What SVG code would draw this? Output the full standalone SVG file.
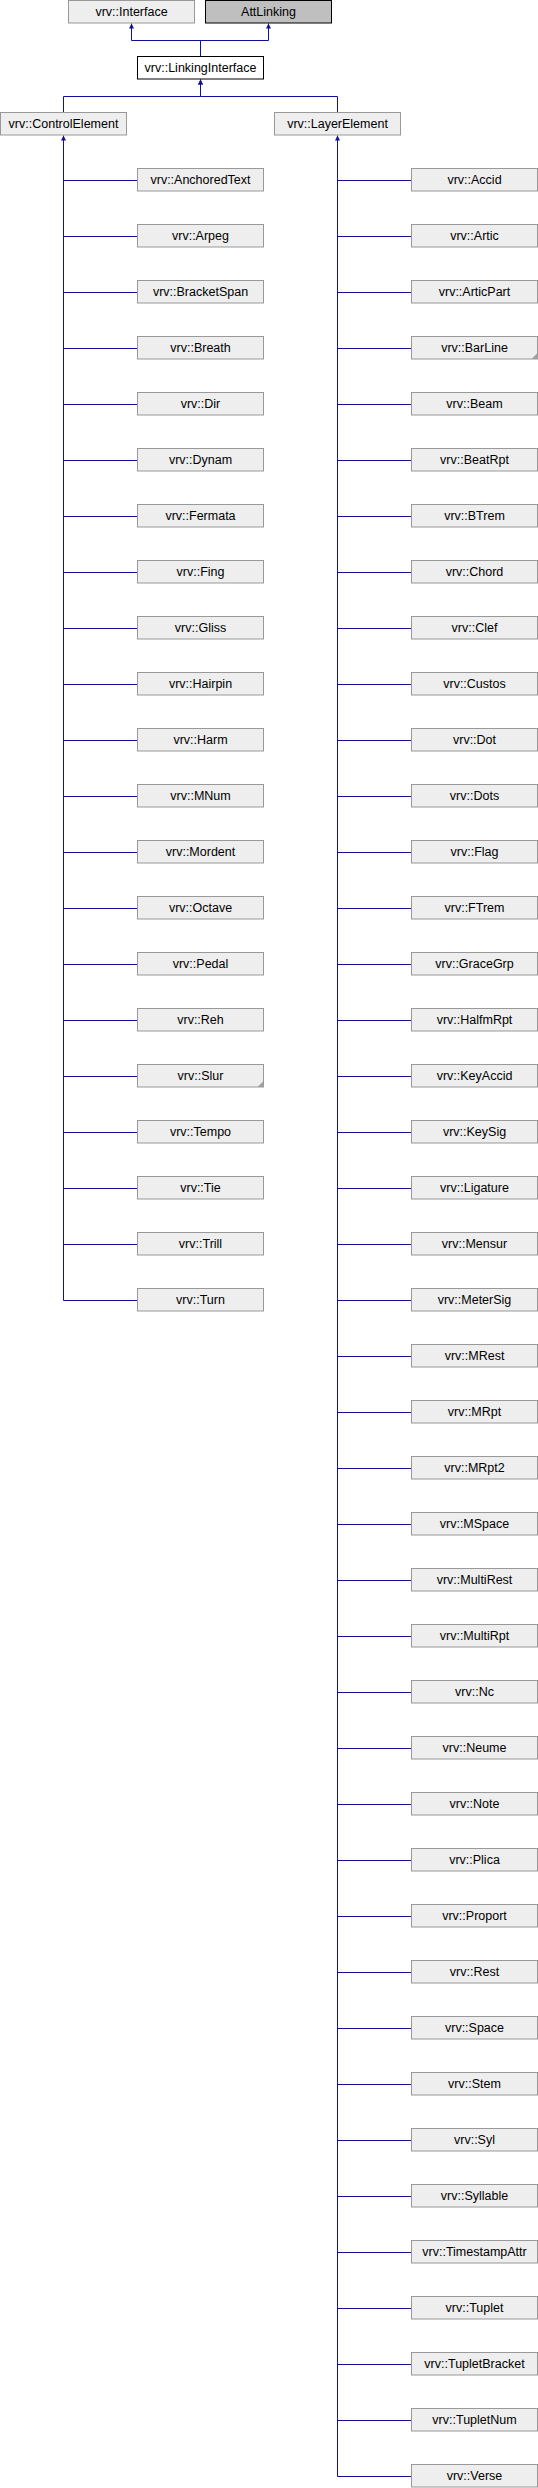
<svg xmlns="http://www.w3.org/2000/svg" width="538" height="2488" viewBox="0 0 538 2488">
<defs>
<style>
.n rect{fill:#eeeeee;stroke:#999999;stroke-width:1}
.n text{font-family:"Liberation Sans",Arial,sans-serif;font-size:12.5px;fill:#000;text-anchor:middle}
.f{fill:#a0a0a0;stroke:none}
.e{fill:none;stroke:#10109a;stroke-width:1}
</style>
<marker id="a" viewBox="0 0 10 10" refX="10" refY="5" markerUnits="userSpaceOnUse" markerWidth="6" markerHeight="5" orient="auto"><path d="M0,0 L10,5 L0,10 z" fill="#10109a"/></marker>
</defs>
<rect width="538" height="2488" fill="#ffffff"/>
<g id="edges">
<path class="e" d="M200.5,56 V40.5 H131.5 V23.5" marker-end="url(#a)"/>
<path class="e" d="M200.5,56 V40.5 H268.5 V23.5" marker-end="url(#a)"/>
<path class="e" d="M63.5,112 V96.5 H200.5 V79.5" marker-end="url(#a)"/>
<path class="e" d="M337.5,112 V96.5 H200.5 V79.5" marker-end="url(#a)"/>
<path class="e" d="M63.5,1300.5 V135.5" marker-end="url(#a)"/>
<path class="e" d="M337.5,2476.5 V135.5" marker-end="url(#a)"/>
<path class="e" d="M63.5,180.5 H137 M63.5,236.5 H137 M63.5,292.5 H137 M63.5,348.5 H137 M63.5,404.5 H137 M63.5,460.5 H137 M63.5,516.5 H137 M63.5,572.5 H137 M63.5,628.5 H137 M63.5,684.5 H137 M63.5,740.5 H137 M63.5,796.5 H137 M63.5,852.5 H137 M63.5,908.5 H137 M63.5,964.5 H137 M63.5,1020.5 H137 M63.5,1076.5 H137 M63.5,1132.5 H137 M63.5,1188.5 H137 M63.5,1244.5 H137 M63.5,1300.5 H137"/>
<path class="e" d="M337.5,180.5 H411 M337.5,236.5 H411 M337.5,292.5 H411 M337.5,348.5 H411 M337.5,404.5 H411 M337.5,460.5 H411 M337.5,516.5 H411 M337.5,572.5 H411 M337.5,628.5 H411 M337.5,684.5 H411 M337.5,740.5 H411 M337.5,796.5 H411 M337.5,852.5 H411 M337.5,908.5 H411 M337.5,964.5 H411 M337.5,1020.5 H411 M337.5,1076.5 H411 M337.5,1132.5 H411 M337.5,1188.5 H411 M337.5,1244.5 H411 M337.5,1300.5 H411 M337.5,1356.5 H411 M337.5,1412.5 H411 M337.5,1468.5 H411 M337.5,1524.5 H411 M337.5,1580.5 H411 M337.5,1636.5 H411 M337.5,1692.5 H411 M337.5,1748.5 H411 M337.5,1804.5 H411 M337.5,1860.5 H411 M337.5,1916.5 H411 M337.5,1972.5 H411 M337.5,2028.5 H411 M337.5,2084.5 H411 M337.5,2140.5 H411 M337.5,2196.5 H411 M337.5,2252.5 H411 M337.5,2308.5 H411 M337.5,2364.5 H411 M337.5,2420.5 H411 M337.5,2476.5 H411"/>
</g>
<g id="n_Interface" class="n"><rect x="68.5" y="0.5" width="126" height="22.5"/><text x="131.5" y="15.5">vrv::Interface</text></g>
<g id="n_AttLinking" class="n"><rect x="205.5" y="0.5" width="126" height="22.5" style="fill:#bfbfbf;stroke:#000"/><text x="268.5" y="15.5">AttLinking</text></g>
<g id="n_LinkingInterface" class="n"><rect x="137.5" y="56.5" width="126" height="22.5" style="fill:#fff;stroke:#000"/><text x="200.5" y="71.5">vrv::LinkingInterface</text></g>
<g id="n_ControlElement" class="n"><rect x="0.5" y="112.5" width="126" height="22.5"/><text x="63.5" y="127.5">vrv::ControlElement</text></g>
<g id="n_LayerElement" class="n"><rect x="274.5" y="112.5" width="126" height="22.5"/><text x="337.5" y="127.5">vrv::LayerElement</text></g>
<g id="n_AnchoredText" class="n"><rect x="137.5" y="168.5" width="126" height="22.5"/><text x="200.5" y="183.5">vrv::AnchoredText</text></g>
<g id="n_Arpeg" class="n"><rect x="137.5" y="224.5" width="126" height="22.5"/><text x="200.5" y="239.5">vrv::Arpeg</text></g>
<g id="n_BracketSpan" class="n"><rect x="137.5" y="280.5" width="126" height="22.5"/><text x="200.5" y="295.5">vrv::BracketSpan</text></g>
<g id="n_Breath" class="n"><rect x="137.5" y="336.5" width="126" height="22.5"/><text x="200.5" y="351.5">vrv::Breath</text></g>
<g id="n_Dir" class="n"><rect x="137.5" y="392.5" width="126" height="22.5"/><text x="200.5" y="407.5">vrv::Dir</text></g>
<g id="n_Dynam" class="n"><rect x="137.5" y="448.5" width="126" height="22.5"/><text x="200.5" y="463.5">vrv::Dynam</text></g>
<g id="n_Fermata" class="n"><rect x="137.5" y="504.5" width="126" height="22.5"/><text x="200.5" y="519.5">vrv::Fermata</text></g>
<g id="n_Fing" class="n"><rect x="137.5" y="560.5" width="126" height="22.5"/><text x="200.5" y="575.5">vrv::Fing</text></g>
<g id="n_Gliss" class="n"><rect x="137.5" y="616.5" width="126" height="22.5"/><text x="200.5" y="631.5">vrv::Gliss</text></g>
<g id="n_Hairpin" class="n"><rect x="137.5" y="672.5" width="126" height="22.5"/><text x="200.5" y="687.5">vrv::Hairpin</text></g>
<g id="n_Harm" class="n"><rect x="137.5" y="728.5" width="126" height="22.5"/><text x="200.5" y="743.5">vrv::Harm</text></g>
<g id="n_MNum" class="n"><rect x="137.5" y="784.5" width="126" height="22.5"/><text x="200.5" y="799.5">vrv::MNum</text></g>
<g id="n_Mordent" class="n"><rect x="137.5" y="840.5" width="126" height="22.5"/><text x="200.5" y="855.5">vrv::Mordent</text></g>
<g id="n_Octave" class="n"><rect x="137.5" y="896.5" width="126" height="22.5"/><text x="200.5" y="911.5">vrv::Octave</text></g>
<g id="n_Pedal" class="n"><rect x="137.5" y="952.5" width="126" height="22.5"/><text x="200.5" y="967.5">vrv::Pedal</text></g>
<g id="n_Reh" class="n"><rect x="137.5" y="1008.5" width="126" height="22.5"/><text x="200.5" y="1023.5">vrv::Reh</text></g>
<g id="n_Slur" class="n"><rect x="137.5" y="1064.5" width="126" height="22.5"/><path class="f" d="M263.5,1081 V1087 H257.5 z"/><text x="200.5" y="1079.5">vrv::Slur</text></g>
<g id="n_Tempo" class="n"><rect x="137.5" y="1120.5" width="126" height="22.5"/><text x="200.5" y="1135.5">vrv::Tempo</text></g>
<g id="n_Tie" class="n"><rect x="137.5" y="1176.5" width="126" height="22.5"/><text x="200.5" y="1191.5">vrv::Tie</text></g>
<g id="n_Trill" class="n"><rect x="137.5" y="1232.5" width="126" height="22.5"/><text x="200.5" y="1247.5">vrv::Trill</text></g>
<g id="n_Turn" class="n"><rect x="137.5" y="1288.5" width="126" height="22.5"/><text x="200.5" y="1303.5">vrv::Turn</text></g>
<g id="n_Accid" class="n"><rect x="411.5" y="168.5" width="126" height="22.5"/><text x="474.5" y="183.5">vrv::Accid</text></g>
<g id="n_Artic" class="n"><rect x="411.5" y="224.5" width="126" height="22.5"/><text x="474.5" y="239.5">vrv::Artic</text></g>
<g id="n_ArticPart" class="n"><rect x="411.5" y="280.5" width="126" height="22.5"/><text x="474.5" y="295.5">vrv::ArticPart</text></g>
<g id="n_BarLine" class="n"><rect x="411.5" y="336.5" width="126" height="22.5"/><path class="f" d="M537.5,353 V359 H531.5 z"/><text x="474.5" y="351.5">vrv::BarLine</text></g>
<g id="n_Beam" class="n"><rect x="411.5" y="392.5" width="126" height="22.5"/><text x="474.5" y="407.5">vrv::Beam</text></g>
<g id="n_BeatRpt" class="n"><rect x="411.5" y="448.5" width="126" height="22.5"/><text x="474.5" y="463.5">vrv::BeatRpt</text></g>
<g id="n_BTrem" class="n"><rect x="411.5" y="504.5" width="126" height="22.5"/><text x="474.5" y="519.5">vrv::BTrem</text></g>
<g id="n_Chord" class="n"><rect x="411.5" y="560.5" width="126" height="22.5"/><text x="474.5" y="575.5">vrv::Chord</text></g>
<g id="n_Clef" class="n"><rect x="411.5" y="616.5" width="126" height="22.5"/><text x="474.5" y="631.5">vrv::Clef</text></g>
<g id="n_Custos" class="n"><rect x="411.5" y="672.5" width="126" height="22.5"/><text x="474.5" y="687.5">vrv::Custos</text></g>
<g id="n_Dot" class="n"><rect x="411.5" y="728.5" width="126" height="22.5"/><text x="474.5" y="743.5">vrv::Dot</text></g>
<g id="n_Dots" class="n"><rect x="411.5" y="784.5" width="126" height="22.5"/><text x="474.5" y="799.5">vrv::Dots</text></g>
<g id="n_Flag" class="n"><rect x="411.5" y="840.5" width="126" height="22.5"/><text x="474.5" y="855.5">vrv::Flag</text></g>
<g id="n_FTrem" class="n"><rect x="411.5" y="896.5" width="126" height="22.5"/><text x="474.5" y="911.5">vrv::FTrem</text></g>
<g id="n_GraceGrp" class="n"><rect x="411.5" y="952.5" width="126" height="22.5"/><text x="474.5" y="967.5">vrv::GraceGrp</text></g>
<g id="n_HalfmRpt" class="n"><rect x="411.5" y="1008.5" width="126" height="22.5"/><text x="474.5" y="1023.5">vrv::HalfmRpt</text></g>
<g id="n_KeyAccid" class="n"><rect x="411.5" y="1064.5" width="126" height="22.5"/><text x="474.5" y="1079.5">vrv::KeyAccid</text></g>
<g id="n_KeySig" class="n"><rect x="411.5" y="1120.5" width="126" height="22.5"/><text x="474.5" y="1135.5">vrv::KeySig</text></g>
<g id="n_Ligature" class="n"><rect x="411.5" y="1176.5" width="126" height="22.5"/><text x="474.5" y="1191.5">vrv::Ligature</text></g>
<g id="n_Mensur" class="n"><rect x="411.5" y="1232.5" width="126" height="22.5"/><text x="474.5" y="1247.5">vrv::Mensur</text></g>
<g id="n_MeterSig" class="n"><rect x="411.5" y="1288.5" width="126" height="22.5"/><text x="474.5" y="1303.5">vrv::MeterSig</text></g>
<g id="n_MRest" class="n"><rect x="411.5" y="1344.5" width="126" height="22.5"/><text x="474.5" y="1359.5">vrv::MRest</text></g>
<g id="n_MRpt" class="n"><rect x="411.5" y="1400.5" width="126" height="22.5"/><text x="474.5" y="1415.5">vrv::MRpt</text></g>
<g id="n_MRpt2" class="n"><rect x="411.5" y="1456.5" width="126" height="22.5"/><text x="474.5" y="1471.5">vrv::MRpt2</text></g>
<g id="n_MSpace" class="n"><rect x="411.5" y="1512.5" width="126" height="22.5"/><text x="474.5" y="1527.5">vrv::MSpace</text></g>
<g id="n_MultiRest" class="n"><rect x="411.5" y="1568.5" width="126" height="22.5"/><text x="474.5" y="1583.5">vrv::MultiRest</text></g>
<g id="n_MultiRpt" class="n"><rect x="411.5" y="1624.5" width="126" height="22.5"/><text x="474.5" y="1639.5">vrv::MultiRpt</text></g>
<g id="n_Nc" class="n"><rect x="411.5" y="1680.5" width="126" height="22.5"/><text x="474.5" y="1695.5">vrv::Nc</text></g>
<g id="n_Neume" class="n"><rect x="411.5" y="1736.5" width="126" height="22.5"/><text x="474.5" y="1751.5">vrv::Neume</text></g>
<g id="n_Note" class="n"><rect x="411.5" y="1792.5" width="126" height="22.5"/><text x="474.5" y="1807.5">vrv::Note</text></g>
<g id="n_Plica" class="n"><rect x="411.5" y="1848.5" width="126" height="22.5"/><text x="474.5" y="1863.5">vrv::Plica</text></g>
<g id="n_Proport" class="n"><rect x="411.5" y="1904.5" width="126" height="22.5"/><text x="474.5" y="1919.5">vrv::Proport</text></g>
<g id="n_Rest" class="n"><rect x="411.5" y="1960.5" width="126" height="22.5"/><text x="474.5" y="1975.5">vrv::Rest</text></g>
<g id="n_Space" class="n"><rect x="411.5" y="2016.5" width="126" height="22.5"/><text x="474.5" y="2031.5">vrv::Space</text></g>
<g id="n_Stem" class="n"><rect x="411.5" y="2072.5" width="126" height="22.5"/><text x="474.5" y="2087.5">vrv::Stem</text></g>
<g id="n_Syl" class="n"><rect x="411.5" y="2128.5" width="126" height="22.5"/><text x="474.5" y="2143.5">vrv::Syl</text></g>
<g id="n_Syllable" class="n"><rect x="411.5" y="2184.5" width="126" height="22.5"/><text x="474.5" y="2199.5">vrv::Syllable</text></g>
<g id="n_TimestampAttr" class="n"><rect x="411.5" y="2240.5" width="126" height="22.5"/><text x="474.5" y="2255.5">vrv::TimestampAttr</text></g>
<g id="n_Tuplet" class="n"><rect x="411.5" y="2296.5" width="126" height="22.5"/><text x="474.5" y="2311.5">vrv::Tuplet</text></g>
<g id="n_TupletBracket" class="n"><rect x="411.5" y="2352.5" width="126" height="22.5"/><text x="474.5" y="2367.5">vrv::TupletBracket</text></g>
<g id="n_TupletNum" class="n"><rect x="411.5" y="2408.5" width="126" height="22.5"/><text x="474.5" y="2423.5">vrv::TupletNum</text></g>
<g id="n_Verse" class="n"><rect x="411.5" y="2464.5" width="126" height="22.5"/><text x="474.5" y="2479.5">vrv::Verse</text></g>
</svg>
